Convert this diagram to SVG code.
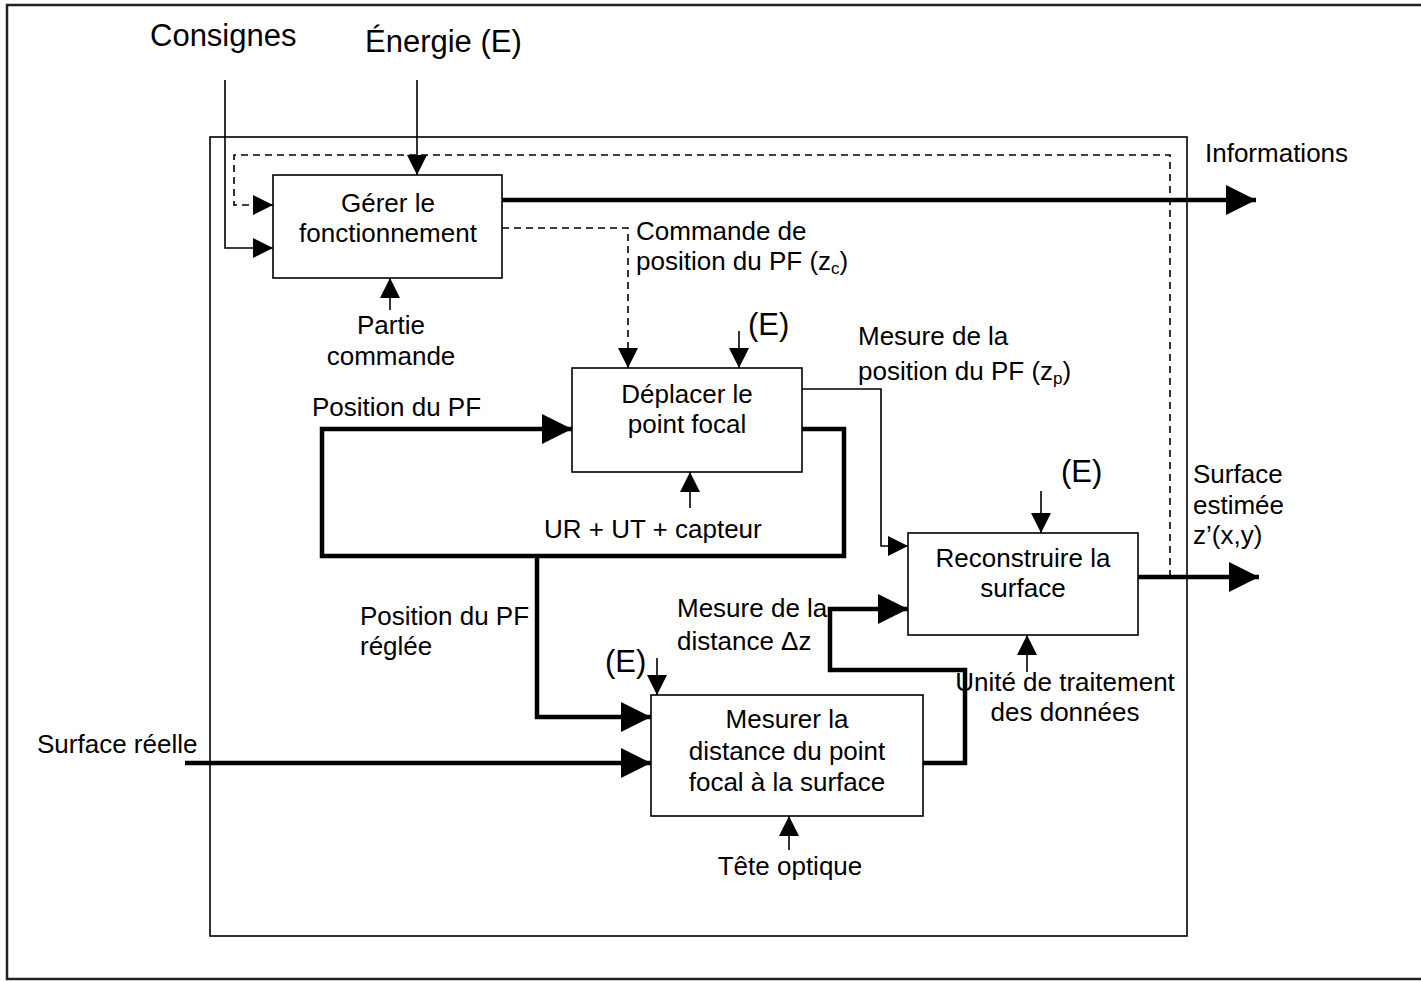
<svg xmlns="http://www.w3.org/2000/svg" width="1421" height="981" viewBox="0 0 1421 981">
<style>
text{font-family:"Liberation Sans",Arial,sans-serif;font-size:26px;fill:#000}
.big{font-size:31px}
.mid{text-anchor:middle}
.sub{font-size:17px}
.box{fill:#fff;stroke:#000;stroke-width:1.6}
.thin{fill:none;stroke:#000;stroke-width:1.6}
.thick{fill:none;stroke:#000;stroke-width:4.5}
.dash{fill:none;stroke:#000;stroke-width:1.6;stroke-dasharray:7 5}
.sa{marker-end:url(#sa)}
.la{marker-end:url(#la)}
</style>
<defs>
<marker id="sa" markerUnits="userSpaceOnUse" markerWidth="20" markerHeight="20" refX="20" refY="10" orient="auto"><path d="M0,0 L20,10 L0,20 z" fill="#000"/></marker>
<marker id="la" markerUnits="userSpaceOnUse" markerWidth="30" markerHeight="30" refX="30" refY="15" orient="auto"><path d="M0,0 L30,15 L0,30 z" fill="#000"/></marker>
</defs>
<rect width="1421" height="981" fill="#fff"/>
<rect x="7" y="5" width="1420" height="974" fill="none" stroke="#222" stroke-width="2.5"/>
<rect x="210" y="137" width="977" height="799" fill="none" stroke="#000" stroke-width="1.6"/>

<g id="connectors">
<path class="thin sa" d="M225,80 V248 H273"/>
<path class="thin sa" d="M417,80 V175"/>
<path class="dash sa" d="M1170,577 V155 H234 V205 H273"/>
<path class="thick la" d="M502,200 H1256"/>
<path class="dash sa" d="M502,228 H628 V368"/>
<path class="thin sa" d="M390,310 V278"/>
<path class="thin sa" d="M739,331 V368"/>
<path class="thick la" d="M802,429 H844 V556 H322 V429 H572"/>
<path class="thick la" d="M537,556 V717 H651"/>
<path class="thick la" d="M185,763 H651"/>
<path class="thin sa" d="M690,508 V472"/>
<path class="thin sa" d="M802,389 H881 V546 H908"/>
<path class="thin sa" d="M1041,491 V533"/>
<path class="thick la" d="M923,763 H965 V670 H830 V609 H908"/>
<path class="thin sa" d="M657,658 V695"/>
<path class="thin sa" d="M789,850 V816"/>
<path class="thin sa" d="M1027,672 V635"/>
<path class="thick la" d="M1138,577 H1259"/>
</g>

<g id="gerer">
<rect class="box" x="273" y="175" width="229" height="103"/>
<text class="mid" x="388" y="212">Gérer le</text>
<text class="mid" x="388" y="242">fonctionnement</text>
</g>
<g id="deplacer">
<rect class="box" x="572" y="368" width="230" height="104"/>
<text class="mid" x="687" y="403">Déplacer le</text>
<text class="mid" x="687" y="433">point focal</text>
</g>
<g id="reconstruire">
<rect class="box" x="908" y="533" width="230" height="102"/>
<text class="mid" x="1023" y="567">Reconstruire la</text>
<text class="mid" x="1023" y="597">surface</text>
</g>
<g id="mesurer">
<rect class="box" x="651" y="695" width="272" height="121"/>
<text class="mid" x="787" y="728">Mesurer la</text>
<text class="mid" x="787" y="760">distance du point</text>
<text class="mid" x="787" y="791">focal à la surface</text>
</g>

<g id="labels">
<text class="big" x="150" y="46">Consignes</text>
<text class="big" x="365" y="52">Énergie (E)</text>
<text x="1205" y="162">Informations</text>
<text x="636" y="240">Commande de</text>
<text x="636" y="270">position du PF (z<tspan class="sub" dy="4">c</tspan><tspan dy="-4">)</tspan></text>
<text class="mid" x="391" y="334">Partie</text>
<text class="mid" x="391" y="365">commande</text>
<text class="big" x="748" y="335">(E)</text>
<text x="858" y="345">Mesure de la</text>
<text x="858" y="380">position du PF (z<tspan class="sub" dy="4">p</tspan><tspan dy="-4">)</tspan></text>
<text x="312" y="416">Position du PF</text>
<text x="544" y="538">UR + UT + capteur</text>
<text class="big" x="1061" y="482">(E)</text>
<text x="1193" y="483">Surface</text>
<text x="1193" y="514">estimée</text>
<text x="1193" y="544">z’(x,y)</text>
<text x="360" y="625">Position du PF</text>
<text x="360" y="655">réglée</text>
<text x="677" y="617">Mesure de la</text>
<text x="677" y="650">distance Δz</text>
<text class="big" x="605" y="672">(E)</text>
<text class="mid" x="1065" y="691">Unité de traitement</text>
<text class="mid" x="1065" y="721">des données</text>
<text x="37" y="753">Surface réelle</text>
<text class="mid" x="790" y="875">Tête optique</text>
</g>
</svg>
